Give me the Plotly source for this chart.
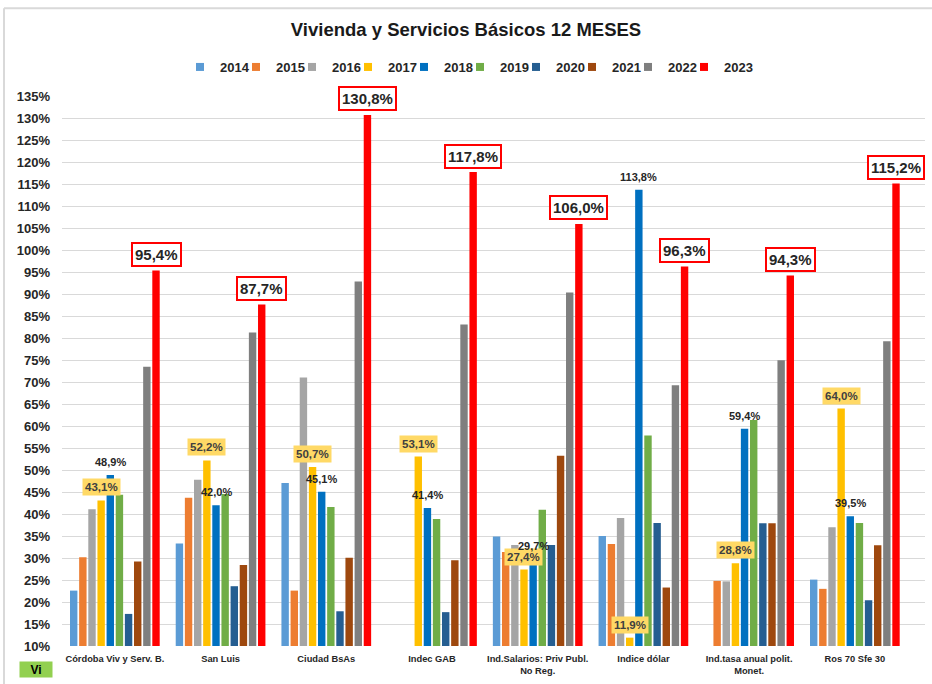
import plotly.graph_objects as go

categories = ["Córdoba Viv y Serv. B.", "San Luis", "Ciudad BsAs", "Indec GAB",
              "Ind.Salarios: Priv Publ.<br>No Reg.", "Indice dólar",
              "Ind.tasa anual polit.<br>Monet.", "Ros 70 Sfe 30"]
years = ["2014", "2015", "2016", "2017", "2018", "2019", "2020", "2021", "2022", "2023"]

v2014 = [22.6, 33.3, 47.1, None, 34.9, 35.0, None, 25.1]
v2015 = [30.2, 43.7, 22.6, None, 31.4, 33.2, 24.8, 23.0]
v2016 = [41.1, 47.8, 71.1, None, 33.0, 39.1, 24.7, 37.0]
v2017 = [43.1, 52.2, 50.7, 53.1, 27.4, 11.9, 28.8, 64.0]
v2018 = [48.9, 42.0, 45.1, 41.4, 29.7, 113.8, 59.4, 39.5]
v2019 = [44.4, 44.6, 41.6, 38.9, 41.0, 57.9, 61.4, 38.0]
v2020 = [17.3, 23.6, 17.9, 17.7, 33.0, 38.0, 37.9, 20.4]
v2021 = [29.2, 28.4, 30.1, 29.5, 53.3, 23.3, 37.9, 32.9]
v2022 = [73.5, 81.3, 92.9, 83.1, 90.4, 69.3, 75.0, 79.3]
v2023 = [95.4, 87.7, 130.8, 117.8, 106.0, 96.3, 94.3, 115.2]

series = [v2014, v2015, v2016, v2017, v2018, v2019, v2020, v2021, v2022, v2023]
colors = ["#5B9BD5", "#ED7D31", "#A5A5A5", "#FFC000", "#0070C0",
          "#70AD47", "#255E91", "#9E480E", "#7F7F7F", "#FF0000"]

BARGAP = 0.135
FONT = "Liberation Sans, Arial, sans-serif"
L, R, T, B = 62, 7, 94, 38
PW, PH = 932 - L - R, 684 - T - B

fig = go.Figure()
for yr, vals, col in zip(years, series, colors):
    fig.add_trace(go.Bar(name=yr, x=categories, y=vals, marker_color=col,
                         marker_line_width=0, showlegend=False))
# legend entries with small square swatches
for yr, col in zip(years, colors):
    fig.add_trace(go.Scatter(name=yr, x=[None], y=[None], mode="markers",
                             marker=dict(symbol="square", size=8, color=col)))
# invisible spacer entry so the last legend label is not clipped
fig.add_trace(go.Scatter(name=" ", x=[None], y=[None], mode="markers",
                         marker=dict(symbol="square", size=8, color="rgba(0,0,0,0)"),
                         hoverinfo="skip"))

def fmt(v):
    return f"{v:.1f}".replace(".", ",") + "%"

def xpos(i, k):
    return i + (k - 4.5) * (1 - BARGAP) / len(years)

ann = []
# 2017 labels: yellow boxes
for i, v in enumerate(v2017):
    ann.append(dict(x=xpos(i, 3), y=v, xref="x", yref="y", text=fmt(v),
                    showarrow=False, xanchor="center", yanchor="middle", yshift=13,
                    bgcolor="#FFD966", borderpad=2,
                    font=dict(family=FONT, size=11.5, color="#404040", weight="bold")))
# 2018 labels: plain black
for i, v in enumerate(v2018):
    ann.append(dict(x=xpos(i, 4), y=v, xref="x", yref="y", text=fmt(v),
                    showarrow=False, xanchor="center", yanchor="middle", yshift=13,
                    font=dict(family=FONT, size=11, color="#262626", weight="bold")))
# 2023 labels: red framed boxes
for i, v in enumerate(v2023):
    ann.append(dict(x=xpos(i, 9), y=v, xref="x", yref="y", text=fmt(v),
                    showarrow=False, xanchor="center", yanchor="middle", yshift=16,
                    bgcolor="white", bordercolor="#FF0000", borderwidth=2, borderpad=2,
                    font=dict(family=FONT, size=15, color="#262626", weight="bold")))
# small green cell at bottom-left
ann.append(dict(x=(36 - L) / PW, y=(646 - 670) / PH, xref="paper", yref="paper",
                xanchor="center", yanchor="middle",
                text="Vi", showarrow=False, bgcolor="#92D050", width=30, height=13,
                font=dict(family=FONT, size=12, color="black", weight="bold")))

fig.update_layout(
    width=932, height=684,
    margin=dict(l=L, r=R, t=T, b=B),
    paper_bgcolor="white", plot_bgcolor="white",
    barmode="group", bargap=BARGAP, bargroupgap=0.19,
    title=dict(text="Vivienda y Servicios Básicos 12 MESES", x=0.5, xanchor="center",
               y=1 - 30 / 684, yanchor="middle", yref="container",
               font=dict(family=FONT, size=18.5, color="#1a1a1a", weight="bold")),
    legend=dict(orientation="h", x=180 / 932, xanchor="left", xref="container",
                y=1 - 67 / 684, yanchor="middle", yref="container",
                font=dict(family=FONT, size=13, color="#262626", weight="bold"),
                itemwidth=30, entrywidth=11, traceorder="normal"),
    xaxis=dict(type="category", showgrid=False, showline=False, ticks="",
               ticklabelstandoff=6,
               tickfont=dict(family=FONT, size=9.3, color="#262626", weight="bold")),
    yaxis=dict(range=[10, 135], dtick=5, ticksuffix="%", showgrid=True,
               gridcolor="#D9D9D9", gridwidth=1, zeroline=False, ticks="",
               ticklabelstandoff=11,
               tickfont=dict(family=FONT, size=13, color="#262626", weight="bold")),
    annotations=ann,
    separators=",.",
    shapes=[
        dict(type="line", xref="paper", yref="paper", x0=(4 - L) / PW, x1=(940 - L) / PW,
             y0=(646 - 5.5) / PH, y1=(646 - 5.5) / PH, line=dict(color="#D9D9D9", width=2)),
        dict(type="line", xref="paper", yref="paper", x0=(4 - L) / PW, x1=(4 - L) / PW,
             y0=(646 - 5.5) / PH, y1=(646 - 690) / PH, line=dict(color="#D9D9D9", width=2)),
    ],
)

fig.write_html("out.html", config={"displayModeBar": False},
               post_script="document.body.style.margin='0';")
